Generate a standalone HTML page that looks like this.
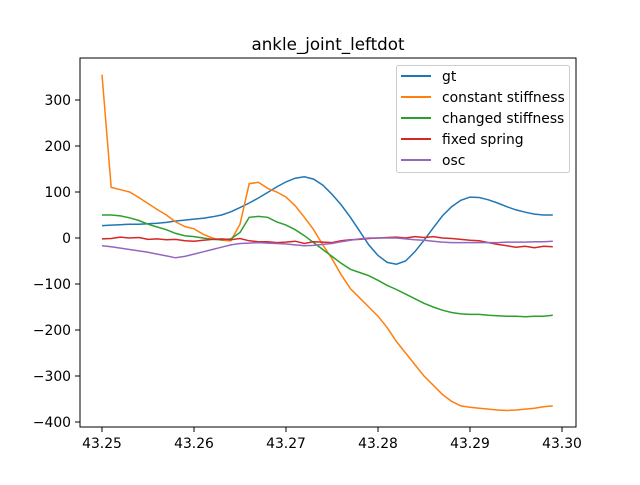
<!DOCTYPE html>
<html><head><meta charset="utf-8"><style>
body{margin:0;background:#fff}
svg text{font-family:"DejaVu Sans","Liberation Sans",sans-serif}
</style></head><body>
<svg id="chart" width="640" height="480" xmlns="http://www.w3.org/2000/svg">
<rect width="640" height="480" fill="#fff"/>
<text x="328" y="50" font-size="16.7" text-anchor="middle">ankle_joint_leftdot</text>
<g id="series"></g>
<g id="axes"></g>
<rect x="80" y="58" width="496" height="369" fill="none" stroke="#000" stroke-width="1"/>
<g id="legend"></g>
</svg>
<script>
const times = [];
for (let k = 0; k < 50; k++) times.push(43.25 + k * 0.001);
const gt = [27,28,29,30,30,31,32,34,37,39,41,43,46,50,57,66,76,87,99,111,122,130,133,128,115,95,72,45,15,-15,-38,-53,-57,-50,-30,-5,22,48,68,82,89,88,83,76,68,61,56,52,50,50];
const constantStiffness = [355,110,105,100,88,75,62,50,35,25,20,8,0,-5,-6,30,118,121,108,100,89,70,45,18,-15,-45,-80,-110,-130,-150,-170,-195,-225,-250,-275,-300,-320,-340,-355,-365,-368,-370,-372,-374,-375,-374,-372,-370,-367,-365];
const changedStiffness = [50,50,48,44,38,30,24,18,10,5,3,0,-3,-4,-2,12,45,47,45,35,28,18,5,-10,-25,-40,-55,-68,-75,-82,-92,-103,-112,-122,-132,-142,-150,-157,-162,-165,-166,-166,-168,-169,-170,-170,-171,-170,-170,-168];
const fixedSpring = [-2,-1,2,0,1,-3,-2,-4,-3,-6,-7,-5,-3,-2,-4,-1,-6,-8,-8,-10,-9,-7,-12,-8,-9,-10,-6,-4,-3,-1,0,1,2,0,3,1,3,0,-1,-3,-5,-6,-10,-14,-17,-20,-18,-21,-18,-19];
const osc = [-17,-19,-22,-25,-28,-31,-35,-39,-43,-40,-35,-30,-25,-20,-15,-12,-11,-10,-11,-12,-13,-15,-17,-16,-14,-12,-8,-5,-2,0,0,0,0,-2,-4,-5,-7,-9,-10,-10,-10,-10,-10,-10,-9,-9,-9,-8,-8,-7];
const xTicks = [43.25,43.26,43.27,43.28,43.29,43.30];
const xTickLabels = ["43.25","43.26","43.27","43.28","43.29","43.30"];
const yTicks = [300,200,100,0,-100,-200,-300,-400];
const yTickLabels = ["300","200","100","0","\u2212100","\u2212200","\u2212300","\u2212400"];
const seriesNames = ["gt","constant stiffness","changed stiffness","fixed spring","osc"];
const seriesColors = ["#1f77b4","#ff7f0e","#2ca02c","#d62728","#9467bd"];
const seriesData = [gt, constantStiffness, changedStiffness, fixedSpring, osc];

const NS = "http://www.w3.org/2000/svg";
function xs(v){ return 102 + (v - 43.25) / 0.01 * 92; }
function ys(v){ return 238 - v * 0.46; }
const sg = document.getElementById('series');
seriesData.forEach((arr, i) => {
  const p = document.createElementNS(NS, 'polyline');
  p.setAttribute('points', arr.map((v, k) => xs(times[k]).toFixed(1) + ',' + ys(v).toFixed(1)).join(' '));
  p.setAttribute('fill', 'none');
  p.setAttribute('stroke', seriesColors[i]);
  p.setAttribute('stroke-width', '1.5');
  
  
  sg.appendChild(p);
});
const ag = document.getElementById('axes');
xTicks.forEach((t, i) => {
  const x = xs(t);
  const l = document.createElementNS(NS, 'line');
  l.setAttribute('x1', x); l.setAttribute('x2', x); l.setAttribute('y1', 427); l.setAttribute('y2', 432);
  l.setAttribute('stroke', '#000');
  
  
  ag.appendChild(l);
  const tx = document.createElementNS(NS, 'text');
  tx.setAttribute('x', x); tx.setAttribute('y', 448); tx.setAttribute('font-size', '13.9'); tx.setAttribute('text-anchor', 'middle');
  tx.textContent = xTickLabels[i];
  
  
  ag.appendChild(tx);
});
yTicks.forEach((t, i) => {
  const y = ys(t);
  const l = document.createElementNS(NS, 'line');
  l.setAttribute('x1', 75); l.setAttribute('x2', 80); l.setAttribute('y1', y); l.setAttribute('y2', y);
  l.setAttribute('stroke', '#000');
  
  
  ag.appendChild(l);
  const tx = document.createElementNS(NS, 'text');
  tx.setAttribute('x', 71); tx.setAttribute('y', y + 5); tx.setAttribute('font-size', '13.9'); tx.setAttribute('text-anchor', 'end');
  tx.textContent = yTickLabels[i];
  
  
  ag.appendChild(tx);
});
const lg = document.getElementById('legend');
const box = document.createElementNS(NS, 'rect');
box.setAttribute('x', 396.5); box.setAttribute('y', 65.5); box.setAttribute('width', 173); box.setAttribute('height', 107); box.setAttribute('rx', 2);
box.setAttribute('fill', '#fff'); box.setAttribute('fill-opacity', '0.8'); box.setAttribute('stroke', '#ccc');


lg.appendChild(box);
seriesNames.forEach((n, i) => {
  const y = 76 + i * 21;
  const l = document.createElementNS(NS, 'line');
  l.setAttribute('x1', 401); l.setAttribute('x2', 431); l.setAttribute('y1', y); l.setAttribute('y2', y);
  l.setAttribute('stroke', seriesColors[i]); l.setAttribute('stroke-width', '2');
  
  
  lg.appendChild(l);
  const tx = document.createElementNS(NS, 'text');
  tx.setAttribute('x', 442); tx.setAttribute('y', y + 5); tx.setAttribute('font-size', '13.9');
  tx.textContent = n;
  
  
  lg.appendChild(tx);
});
</script>
</body></html>
